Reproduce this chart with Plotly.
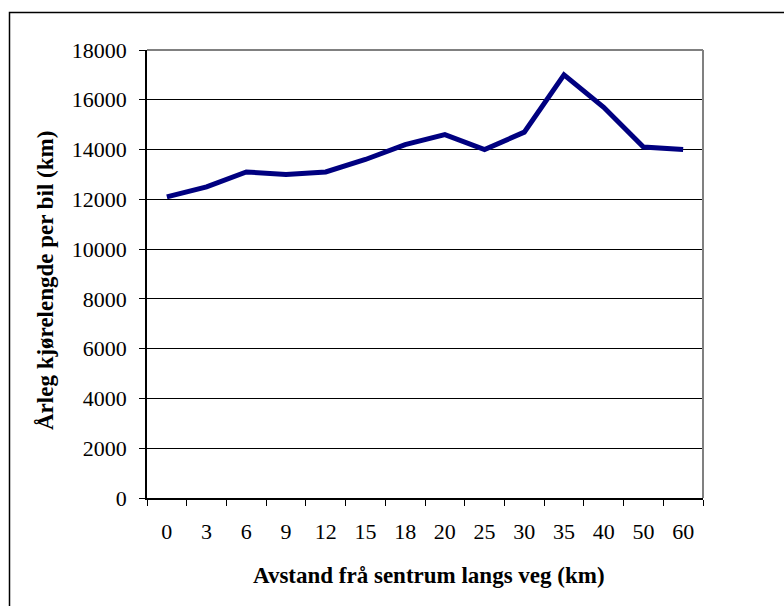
import plotly.graph_objects as go

categories = ["0", "3", "6", "9", "12", "15", "18", "20", "25", "30", "35", "40", "50", "60"]
values = [12100, 12500, 13100, 13000, 13100, 13600, 14200, 14600, 14000, 14700, 17000, 15700, 14100, 14000]
y_title = "Årleg kjørelengde per bil (km)"
x_title = "Avstand frå sentrum langs veg (km)"

W, H = 784, 606
L, R, T, B = 147, 81, 50, 108
pw, ph = W - L - R, H - T - B

def px(x):
    return (x - L) / pw

def py(y):
    return (H - B - y) / ph

font_family = "Liberation Serif, Times New Roman, serif"
tick_size = 22
title_size = 23

fig = go.Figure()
fig.add_trace(go.Scatter(
    x=categories, y=values, mode="lines",
    line=dict(color="#000080", width=5),
    hoverinfo="x+y", showlegend=False,
))

fig.update_layout(
    width=W, height=H,
    margin=dict(l=L, r=R, t=T, b=B, pad=0),
    paper_bgcolor="white", plot_bgcolor="white",
    font=dict(family=font_family, size=tick_size, color="black"),
    xaxis=dict(
        type="category", range=[-0.5, 13.5],
        showgrid=False, zeroline=False,
        showline=True, linecolor="black", linewidth=1.5,
        ticks="outside", ticklen=6, tickcolor="black", tickwidth=1,
        tickson="boundaries", ticklabelstandoff=13,
        tickfont=dict(family=font_family, size=tick_size),
        fixedrange=True,
    ),
    yaxis=dict(
        range=[0, 18000], dtick=2000, tick0=0, tickformat="d",
        showgrid=True, gridcolor="black", gridwidth=1,
        zeroline=False,
        showline=True, linecolor="black", linewidth=1.5,
        ticks="outside", ticklen=6, tickcolor="black", tickwidth=1,
        ticklabelstandoff=8,
        tickfont=dict(family=font_family, size=tick_size),
        fixedrange=True,
    ),
    shapes=[
        dict(type="line", xref="paper", yref="paper", x0=0, x1=1, y0=1, y1=1,
             line=dict(color="#808080", width=2)),
        dict(type="line", xref="paper", yref="paper", x0=1, x1=1, y0=0, y1=1,
             line=dict(color="#808080", width=2)),
        dict(type="rect", xref="paper", yref="paper",
             x0=px(9.5), x1=px(800), y0=py(612), y1=py(12.5),
             line=dict(color="black", width=1.5), layer="below"),
    ],
    annotations=[
        dict(text="<b>" + y_title + "</b>", xref="paper", yref="paper",
             x=px(45), y=py(281), textangle=-90, showarrow=False,
             xanchor="center", yanchor="middle",
             font=dict(family=font_family, size=title_size)),
        dict(text="<b>" + x_title + "</b>", xref="paper", yref="paper",
             x=px(429), y=py(575), showarrow=False,
             xanchor="center", yanchor="middle",
             font=dict(family=font_family, size=title_size)),
    ],
)

fig.write_html("out.html")
